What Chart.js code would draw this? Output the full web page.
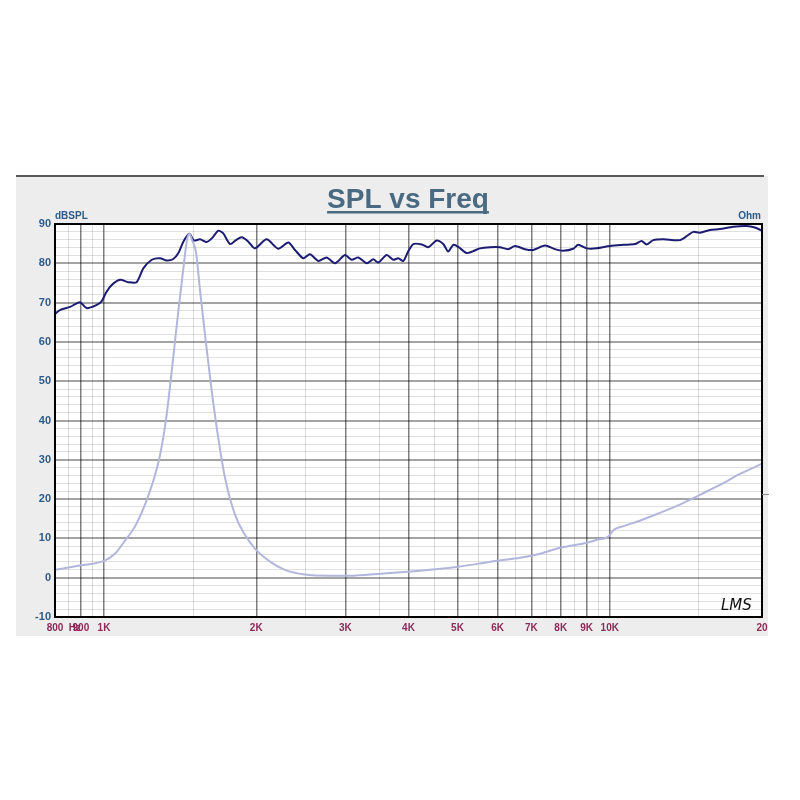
<!DOCTYPE html>
<html lang="en">
<head>
    <meta charset="UTF-8">
    <title>SPL vs Freq</title>
    <script src="https://cdn.jsdelivr.net/npm/chart.js"></script>
    <style>
        body {
            margin: 0;
            padding: 0;
            background: #ffffff;
        }
        #splChart {
            display: block;
        }
    </style>
</head>
<body>
    <canvas id="splChart" width="800" height="800"></canvas>
    <script>
        // SPL curve (dBSPL)
        const splFreq = [800, 818, 857, 896, 924, 967, 989, 1009, 1036, 1076, 1117, 1160, 1196, 1243, 1291, 1330, 1371, 1403, 1435, 1475, 1506, 1548, 1596, 1635, 1683, 1721, 1775, 1824, 1872, 1929, 1988, 2097, 2211, 2314, 2386, 2477, 2554, 2653, 2756, 2862, 2996, 3088, 3183, 3307, 3408, 3486, 3622, 3733, 3818, 3906, 3990, 4088, 4247, 4377, 4548, 4686, 4794, 4904, 5017, 5213, 5371, 5537, 5796, 6065, 6299, 6495, 6796, 7058, 7445, 7791, 8093, 8468, 8663, 9001, 9421, 10010, 10635, 11218, 11563, 11829, 12191, 12758, 13766, 14296, 14625, 15077, 15779, 16514, 17542, 18648, 19368, 20000];
        const splValues = [67.1, 68.1, 68.9, 70.1, 68.6, 69.4, 70.3, 72.5, 74.5, 75.8, 75.2, 75.2, 78.7, 80.9, 81.3, 80.7, 81.1, 82.6, 85.5, 87.5, 85.8, 86.1, 85.4, 86.4, 88.3, 87.6, 84.9, 85.9, 86.6, 85.5, 83.8, 86.1, 83.7, 85.3, 83.4, 81.3, 82.3, 80.6, 81.5, 80.0, 82.1, 80.9, 81.5, 80.0, 81.0, 80.2, 82.1, 80.9, 81.3, 80.6, 82.9, 84.9, 84.8, 84.1, 85.8, 84.9, 83.0, 84.7, 84.2, 82.6, 83.1, 83.8, 84.1, 84.1, 83.6, 84.4, 83.6, 83.4, 84.5, 83.6, 83.2, 83.7, 84.7, 83.8, 83.8, 84.4, 84.7, 84.9, 85.7, 84.8, 85.9, 86.1, 85.9, 87.2, 88.0, 87.8, 88.5, 88.7, 89.3, 89.5, 89.1, 88.3];

        // Impedance curve (Ohm, drawn on the same grid)
        const impFreq = [800, 896, 1000, 1051, 1100, 1151, 1205, 1250, 1291, 1326, 1362, 1400, 1434, 1459, 1475, 1493, 1520, 1548, 1584, 1627, 1673, 1735, 1816, 1900, 1988, 2129, 2279, 2497, 2798, 2996, 3357, 3990, 4410, 5017, 5537, 5983, 6645, 7278, 7970, 9012, 9476, 9918, 10193, 10570, 11472, 12568, 13766, 15077, 16514, 18088, 20000];
        const impValues = [2.0, 3.1, 4.3, 6.1, 9.4, 13.0, 18.6, 24.4, 31.3, 40.2, 52.9, 66.9, 78.3, 85.9, 87.5, 85.9, 82.9, 73.2, 61.8, 49.1, 37.6, 25.4, 16.0, 10.9, 7.4, 4.1, 2.0, 0.8, 0.5, 0.5, 0.8, 1.5, 2.0, 2.8, 3.6, 4.3, 5.1, 6.1, 7.6, 8.9, 9.7, 10.4, 12.2, 13.0, 14.5, 16.5, 18.6, 21.1, 23.6, 26.4, 29.0];

        // axis ticks
        const xMajorTicks = [900, 1000, 2000, 3000, 4000, 5000, 6000, 7000, 8000, 9000, 10000];
        const xMinorTicks = [850, 950, 1500, 2500, 3500, 4500, 5500, 6500, 7500, 8500, 9500, 15000];
        const xTickLabels = { 800: '800', 876: 'Hz', 900: '900', 1000: '1K', 2000: '2K', 3000: '3K', 4000: '4K', 5000: '5K', 6000: '6K', 7000: '7K', 8000: '8K', 9000: '9K', 10000: '10K', 20000: '20' };
        const yTicks = [-10, -8, -6, -4, -2, 0, 2, 4, 6, 8, 10, 12, 14, 16, 18, 20, 22, 24, 26, 28, 30, 32, 34, 36, 38, 40, 42, 44, 46, 48, 50, 52, 54, 56, 58, 60, 62, 64, 66, 68, 70, 72, 74, 76, 78, 80, 82, 84, 86, 88, 90];

        const toPoints = (xs, ys) => xs.map((f, i) => ({ x: f, y: ys[i] }));

        const frame = {
            id: 'frame',
            beforeDraw(chart) {
                const c = chart.ctx, a = chart.chartArea;
                c.save();
                c.fillStyle = '#ffffff';
                c.fillRect(0, 0, chart.width, chart.height);
                c.fillStyle = '#ededed';
                c.fillRect(16, 176, 752, 460);
                c.fillStyle = '#5a5a5a';
                c.fillRect(16, 175, 748, 2);
                c.fillStyle = '#ffffff';
                c.fillRect(a.left, a.top, a.right - a.left, a.bottom - a.top);
                c.restore();
            },
            afterDraw(chart) {
                const c = chart.ctx, a = chart.chartArea;
                c.save();
                c.strokeStyle = '#000000';
                c.lineWidth = 2;
                c.strokeRect(a.left, a.top, a.right - a.left, a.bottom - a.top);
                // small tick on right side
                c.strokeStyle = '#888888';
                c.lineWidth = 1;
                c.beginPath();
                c.moveTo(a.right, 494.5);
                c.lineTo(a.right + 7, 494.5);
                c.stroke();
                // title
                c.fillStyle = '#496a80';
                c.font = 'bold 28px "Liberation Sans", Arial, sans-serif';
                c.textAlign = 'center';
                c.textBaseline = 'alphabetic';
                c.fillText('SPL vs Freq', 408, 208);
                const w = c.measureText('SPL vs Freq').width;
                c.fillRect(408 - w / 2, 211, w, 2.5);
                // axis captions
                c.fillStyle = '#2e5a87';
                c.font = 'bold 10px "Liberation Sans", Arial, sans-serif';
                c.textAlign = 'left';
                c.fillText('dBSPL', 55, 219);
                c.textAlign = 'right';
                c.fillText('Ohm', 761, 219);
                // LMS mark
                c.fillStyle = '#111111';
                c.font = 'italic 15px "DejaVu Sans", sans-serif';
                c.textAlign = 'left';
                c.fillText('LMS', 721, 610);
                c.restore();
            }
        };

        const ctx = document.getElementById('splChart').getContext('2d');
        const chart = new Chart(ctx, {
            type: 'line',
            data: {
                datasets: [
                    {
                        label: 'Ohm',
                        data: toPoints(impFreq, impValues),
                        borderColor: '#b3b6dc',
                        borderWidth: 2,
                        pointRadius: 0,
                        cubicInterpolationMode: 'monotone'
                    },
                    {
                        label: 'dBSPL',
                        data: toPoints(splFreq, splValues),
                        borderColor: '#1c1c72',
                        borderWidth: 2,
                        pointRadius: 0,
                        tension: 0.25
                    }
                ]
            },
            options: {
                responsive: false,
                animation: false,
                layout: { padding: { top: 224, right: 38, bottom: 158, left: 0 } },
                plugins: { legend: { display: false }, tooltip: { enabled: false } },
                scales: {
                    x: {
                        type: 'logarithmic',
                        min: 800,
                        max: 20000,
                        afterBuildTicks: scale => {
                            const vals = [800, 876, 20000].concat(xMajorTicks, xMinorTicks).sort((a, b) => a - b);
                            scale.ticks = vals.map(v => ({ value: v }));
                        },
                        afterFit: scale => { scale.height = 25; },
                        border: { display: false },
                        grid: {
                            drawTicks: false,
                            color: c => {
                                const v = c.tick && c.tick.value;
                                if (xMajorTicks.includes(v)) return 'rgba(0,0,0,0.5)';
                                if (xMinorTicks.includes(v)) return 'rgba(0,0,0,0.14)';
                                return 'rgba(0,0,0,0)';
                            },
                            lineWidth: c => (c.tick && xMajorTicks.includes(c.tick.value)) ? 1.5 : 1
                        },
                        ticks: {
                            autoSkip: false,
                            maxRotation: 0,
                            padding: 5,
                            color: '#8c2a58',
                            font: { family: '"Liberation Sans", Arial, sans-serif', size: 10, weight: 'bold' },
                            callback: v => xTickLabels[v] || ''
                        }
                    },
                    y: {
                        min: -10,
                        max: 90,
                        afterBuildTicks: scale => { scale.ticks = yTicks.map(v => ({ value: v })); },
                        afterFit: scale => { scale.width = 55; },
                        border: { display: false },
                        grid: {
                            drawTicks: false,
                            color: c => (c.tick && c.tick.value % 10 === 0) ? 'rgba(0,0,0,0.36)' : 'rgba(0,0,0,0.12)',
                            lineWidth: c => (c.tick && c.tick.value % 10 === 0) ? 2 : 1
                        },
                        ticks: {
                            autoSkip: false,
                            padding: 4,
                            color: '#2e5a87',
                            font: { family: '"Liberation Sans", Arial, sans-serif', size: 11, weight: 'bold' },
                            callback: v => (v % 10 === 0) ? String(v) : ''
                        }
                    }
                }
            },
            plugins: [frame]
        });
    </script>
</body>
</html>
